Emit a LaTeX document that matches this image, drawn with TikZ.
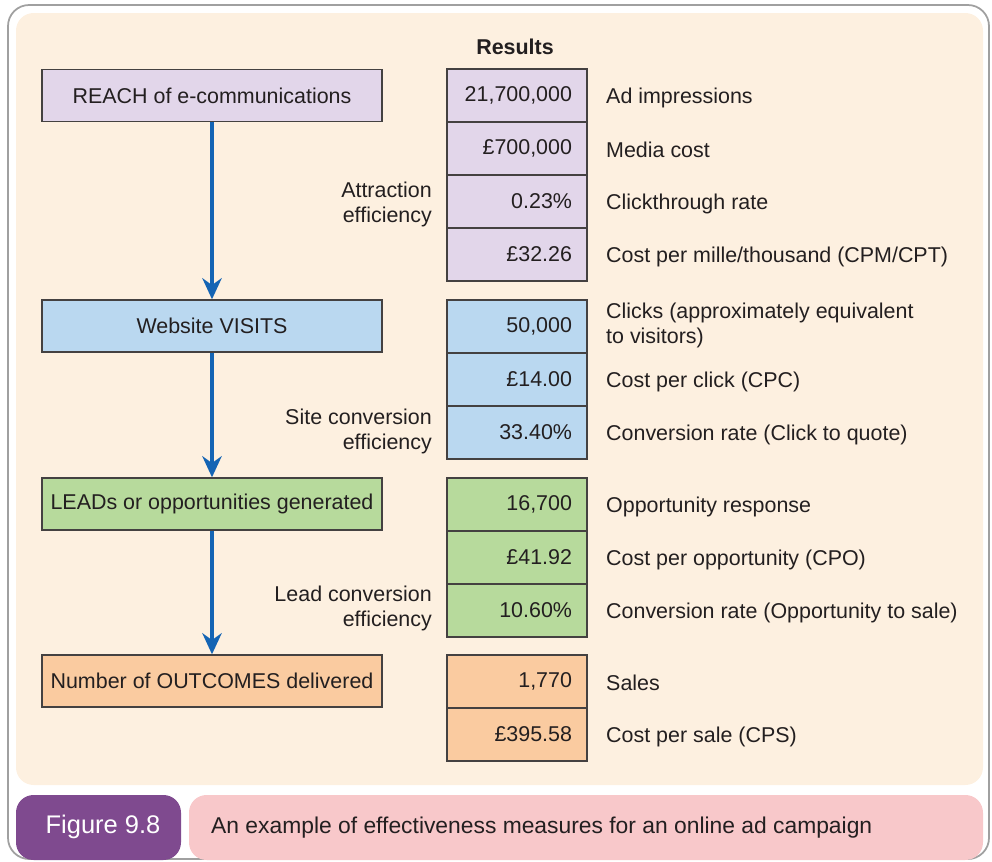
\documentclass[tikz,border=0pt]{standalone}
\usepackage{fontspec}
\setmainfont{Liberation Sans}
\usetikzlibrary{arrows.meta}

\definecolor{panel}{RGB}{253,240,224}
\definecolor{frame}{RGB}{160,160,160}
\definecolor{reachcol}{RGB}{226,214,234}
\definecolor{visitcol}{RGB}{186,216,240}
\definecolor{leadcol}{RGB}{183,218,156}
\definecolor{outcol}{RGB}{250,203,160}
\definecolor{flowcol}{RGB}{20,100,180}
\definecolor{figcol}{RGB}{127,74,143}
\definecolor{capcol}{RGB}{248,200,202}
\definecolor{ink}{RGB}{35,31,32}

\begin{document}
\begin{tikzpicture}[x=0.02cm, y=-0.02cm,
	every node/.style={text=ink, font=\fontsize{12.2}{14.2}\selectfont},
	stage/.style={draw=ink!85, line width=0.8pt, minimum width=6.8cm, minimum height=1.04cm, inner sep=0pt},
	cell/.style={draw=ink!85, line width=0.8pt, text width=2.2cm, inner xsep=0.3cm, minimum height=1.06cm, align=right},
	measure/.style={anchor=west, align=left},
	effic/.style={anchor=east, align=right},
	flow/.style={draw=flowcol, line width=2pt, -{Stealth[length=12pt, width=11pt]}}]
	\useasboundingbox (0,0) rectangle (992,862);
	% frame and background panel
	\draw[frame, line width=1pt, rounded corners=12] (8,5) rectangle (989,859);
	\fill[panel, rounded corners=10] (16,13) rectangle (983,785);

	% left hand stages
	\node[stage, fill=reachcol] (reach) at (212,95.5) {REACH of e-communications};
	\node[stage, fill=visitcol] (visits) at (212,326) {Website VISITS};
	\node[stage, fill=leadcol] (leads) at (212,504) {LEADs or opportunities generated};
	\node[stage, fill=outcol] (outcomes) at (212,681) {Number of OUTCOMES delivered};

	\draw[flow] (reach) -- (visits);
	\draw[flow] (visits) -- (leads);
	\draw[flow] (leads) -- (outcomes);

	\node[effic] (attract) at (438,204) {Attraction\\efficiency};
	\node[effic] (siteconv) at (438,431) {Site conversion\\efficiency};
	\node[effic] (leadconv) at (438,608) {Lead conversion\\efficiency};

	% results column
	\node[font=\fontsize{12.2}{14.2}\selectfont\bfseries] (results) at (515,47) {Results};

	\node[cell, fill=reachcol] (r1) at (517,95.5) {21,700,000};
	\node[cell, fill=reachcol] (r2) at (517,148.5) {£700,000};
	\node[cell, fill=reachcol] (r3) at (517,201.5) {0.23\%};
	\node[cell, fill=reachcol] (r4) at (517,254.5) {£32.26};
	\node[cell, fill=visitcol] (v1) at (517,326.5) {50,000};
	\node[cell, fill=visitcol] (v2) at (517,379.5) {£14.00};
	\node[cell, fill=visitcol] (v3) at (517,432.5) {33.40\%};
	\node[cell, fill=leadcol] (l1) at (517,504.5) {16,700};
	\node[cell, fill=leadcol] (l2) at (517,557.5) {£41.92};
	\node[cell, fill=leadcol] (l3) at (517,610.5) {10.60\%};
	\node[cell, fill=outcol] (o1) at (517,681.5) {1,770};
	\node[cell, fill=outcol] (o2) at (517,734.5) {£395.58};

	\node[measure] (m1) at (600,97.5) {Ad impressions};
	\node[measure] (m2) at (600,149.5) {Media cost};
	\node[measure] (m3) at (600,203.5) {Clickthrough rate};
	\node[measure] (m4) at (600,256.5) {Cost per mille/thousand (CPM/CPT)};
	\node[measure] (m5) at (600,325) {Clicks (approximately equivalent\\to visitors)};
	\node[measure] (m6) at (600,381.5) {Cost per click (CPC)};
	\node[measure] (m7) at (600,434.5) {Conversion rate (Click to quote)};
	\node[measure] (m8) at (600,506.5) {Opportunity response};
	\node[measure] (m9) at (600,559.5) {Cost per opportunity (CPO)};
	\node[measure] (m10) at (600,612.5) {Conversion rate (Opportunity to sale)};
	\node[measure] (m11) at (600,682.5) {Sales};
	\node[measure] (m12) at (600,736.5) {Cost per sale (CPS)};

	% caption bar
	\fill[figcol, rounded corners=10] (16,795) rectangle (181,860);
	\fill[capcol, rounded corners=10] (189,795) rectangle (983,860);
	\node[text=white, font=\fontsize{14.5}{16}\selectfont] (fignum) at (103,827) {Figure 9.8};
	\node[anchor=west, font=\fontsize{13}{15}\selectfont] (caption) at (205,828) {An example of effectiveness measures for an online ad campaign};
\end{tikzpicture}
\end{document}
